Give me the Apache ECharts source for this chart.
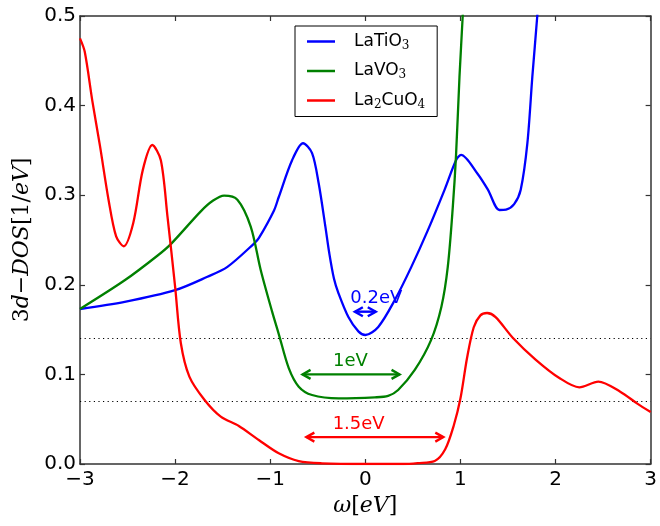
<!DOCTYPE html>
<html><head><meta charset="utf-8">
<script src="https://cdn.jsdelivr.net/npm/echarts@6/dist/echarts.min.js"></script>
<style>html,body{margin:0;padding:0;background:#fff}#c{width:660px;height:526px}</style>
</head><body><div id="c"></div>
<script>
const seriesNames = ['LaTiO3', 'LaVO3', 'La2CuO4'];
const seriesColors = ['#0000ff', '#008000', '#ff0000'];

const tiX = [-3, -2.53, -2.0, -1.66, -1.45, -1.17, -1.12, -0.96, -0.91, -0.77, -0.655, -0.56, -0.49, -0.42, -0.38, -0.33, -0.282, -0.178, -0.073, 0, 0.136, 0.31, 0.484, 0.658, 0.833, 0.954, 1.007, 1.18, 1.29, 1.41, 1.48, 1.565, 1.634, 1.704, 1.756, 1.808, 1.84];
const tiY = [0.173, 0.181, 0.194, 0.209, 0.220, 0.246, 0.252, 0.283, 0.298, 0.339, 0.358, 0.347, 0.313, 0.265, 0.236, 0.207, 0.1905, 0.164, 0.148, 0.144, 0.153, 0.183, 0.220, 0.261, 0.306, 0.339, 0.345, 0.324, 0.306, 0.2835, 0.284, 0.290, 0.306, 0.358, 0.432, 0.50, 0.55];

const voX = [-3, -2.53, -2.18, -2.04, -1.73, -1.6, -1.485, -1.345, -1.205, -1.1, -0.98, -0.91, -0.805, -0.7, -0.56, -0.28, 0.1, 0.24, 0.345, 0.52, 0.69, 0.8, 0.867, 0.92, 0.954, 0.99, 1.024, 1.05];
const voY = [0.173, 0.205, 0.233, 0.246, 0.282, 0.294, 0.2995, 0.295, 0.265, 0.2165, 0.17, 0.145, 0.107, 0.0863, 0.077, 0.0733, 0.0744, 0.076, 0.0826, 0.105, 0.138, 0.1756, 0.220, 0.287, 0.345, 0.432, 0.50, 0.56];

const cuX = [-3, -2.95, -2.87, -2.79, -2.7, -2.62, -2.54, -2.44, -2.34, -2.24, -2.15, -2.08, -2.0, -1.94, -1.85, -1.69, -1.52, -1.33, -1.12, -0.91, -0.7, -0.46, 0, 0.4, 0.55, 0.73, 0.84, 0.93, 1.0, 1.07, 1.14, 1.21, 1.28, 1.37, 1.55, 1.79, 2.04, 2.25, 2.45, 2.68, 2.86, 3.0];
const cuY = [0.475, 0.46, 0.405, 0.355, 0.295, 0.254, 0.243, 0.269, 0.328, 0.356, 0.339, 0.276, 0.198, 0.135, 0.0975, 0.0714, 0.0528, 0.0425, 0.0268, 0.012, 0.0033, 0.0008, 0.0, 0.0, 0.001, 0.0033, 0.0164, 0.043, 0.073, 0.1185, 0.1526, 0.1659, 0.1685, 0.164, 0.141, 0.1166, 0.096, 0.0856, 0.092, 0.0807, 0.0674, 0.058];

const hLines = [0.14, 0.07];

const annoText = ['0.2eV', '1eV', '1.5eV'];
const annoTextX = [0.115, -0.157, -0.07];
const annoTextY = [0.185, 0.115, 0.0446];
const arrowX0 = [-0.11, -0.66, -0.62];
const arrowX1 = [0.11, 0.36, 0.82];
const arrowY = [0.17, 0.10, 0.03];

const xTickLabels = ['\u22123', '\u22122', '\u22121', '0', '1', '2', '3'];
const yTickLabels = ['0.0', '0.1', '0.2', '0.3', '0.4', '0.5'];

const FONT = 'DejaVu Sans';
const chart = echarts.init(document.getElementById('c'), null, {renderer: 'canvas'});

function pairs(xs, ys) { return xs.map((x, i) => [x, ys[i]]); }

const lineData = [pairs(tiX, tiY), pairs(voX, voY), pairs(cuX, cuY)];

const axisLine = {show: true, onZero: false, lineStyle: {color: '#333', width: 1.5}};
const axisTick = {show: true, inside: true, length: 5, lineStyle: {color: '#333', width: 1.2}};

const series = seriesNames.map((n, i) => ({
  name: n, type: 'line', data: lineData[i], showSymbol: false, symbol: 'none',
  smooth: 0.3, clip: true,
  lineStyle: {color: seriesColors[i], width: 2.3}, itemStyle: {color: seriesColors[i]},
  z: 3 + i
}));

series[0].markLine = {
  silent: true, symbol: 'none', animation: false,
  label: {show: false},
  lineStyle: {color: '#000', width: 1, type: [1.2, 3.4]},
  data: hLines.map(v => ({yAxis: v}))
};

series.push({
  type: 'custom', name: 'anno', z: 10,
  data: annoText.map((t, i) => [arrowX0[i], arrowX1[i], arrowY[i], annoTextX[i], annoTextY[i], i]),
  encode: {x: [0, 1, 3], y: [2, 4]},
  renderItem: function (params, api) {
    const i = api.value(5);
    const c = seriesColors[i];
    const p0 = api.coord([api.value(0), api.value(2)]);
    const p1 = api.coord([api.value(1), api.value(2)]);
    const tp = api.coord([api.value(3), api.value(4)]);
    const hl = 8, hw = 4.5;
    const st = {stroke: c, lineWidth: 2.4, fill: null};
    return {
      type: 'group',
      children: [
        {type: 'line', shape: {x1: p0[0], y1: p0[1], x2: p1[0], y2: p1[1]}, style: st},
        {type: 'polyline', shape: {points: [[p0[0] + hl, p0[1] - hw], [p0[0], p0[1]], [p0[0] + hl, p0[1] + hw]]}, style: st},
        {type: 'polyline', shape: {points: [[p1[0] - hl, p1[1] - hw], [p1[0], p1[1]], [p1[0] - hl, p1[1] + hw]]}, style: st},
        {type: 'text', x: tp[0], y: tp[1], style: {text: annoText[i], fill: c, font: '18px "DejaVu Sans"', align: 'center', verticalAlign: 'middle'}}
      ]
    };
  }
});

function legendFmt(name) {
  return '{g| }' + name.replace(/([A-Za-z]+)|(\d)/g, (m, a, d) => a ? '{n|' + a + '}' : '{s|' + d + '}');
}

const option = {
  animation: false,
  backgroundColor: '#fff',
  grid: {left: 80, right: 6, top: 16, bottom: 62, containLabel: false},
  legend: {
    data: seriesNames, orient: 'vertical', left: 295, top: 26,
    icon: 'rect', itemWidth: 28, itemHeight: 2.5, itemGap: 11,
    padding: [7, 12, 6, 12],
    borderColor: '#000', borderWidth: 1, backgroundColor: '#fff',
    formatter: legendFmt,
    textStyle: {
      fontFamily: FONT, fontSize: 17, color: '#000',
      rich: {
        g: {width: 14, fontSize: 17, lineHeight: 20},
        n: {fontFamily: FONT, fontSize: 17, lineHeight: 20, color: '#000'},
        s: {fontFamily: 'DejaVu Serif', fontSize: 12, lineHeight: 12, verticalAlign: 'bottom', color: '#000'}
      }
    }
  },
  xAxis: [{
    type: 'value', min: -3, max: 3, interval: 1, position: 'bottom',
    axisLine, axisTick, splitLine: {show: false},
    axisLabel: {fontFamily: FONT, fontSize: 20, color: '#000', margin: 6,
      formatter: v => xTickLabels[Math.round(v + 3)]},
    name: '{i|\u03c9}{n|[}{i|eV}{n|]}', nameLocation: 'middle', nameGap: 31,
    nameTextStyle: {rich: {
      n: {fontFamily: 'DejaVu Serif', fontSize: 22, color: '#000'},
      i: {fontFamily: 'DejaVu Serif', fontStyle: 'italic', fontSize: 22, color: '#000'}
    }}
  }, {
    type: 'value', min: -3, max: 3, interval: 1, position: 'top',
    axisLine, axisTick, axisLabel: {show: false}, splitLine: {show: false}
  }],
  yAxis: [{
    type: 'value', min: 0, max: 0.5, interval: 0.1, position: 'left',
    axisLine, axisTick, splitLine: {show: false},
    axisLabel: {fontFamily: FONT, fontSize: 20, color: '#000', margin: 4,
      formatter: v => yTickLabels[Math.round(v * 10)]},
    name: '{n|3}{i|d}{n|\u2212}{i|DOS}{n|[1/}{i|eV}{n|]}', nameLocation: 'middle', nameGap: 46,
    nameRotate: 90,
    nameTextStyle: {rich: {
      n: {fontFamily: 'DejaVu Serif', fontSize: 22, color: '#000'},
      i: {fontFamily: 'DejaVu Serif', fontStyle: 'italic', fontSize: 22, color: '#000'}
    }}
  }, {
    type: 'value', min: 0, max: 0.5, interval: 0.1, position: 'right',
    axisLine, axisTick, axisLabel: {show: false}, splitLine: {show: false}
  }],
  series
};
chart.setOption(option);
</script></body></html>
